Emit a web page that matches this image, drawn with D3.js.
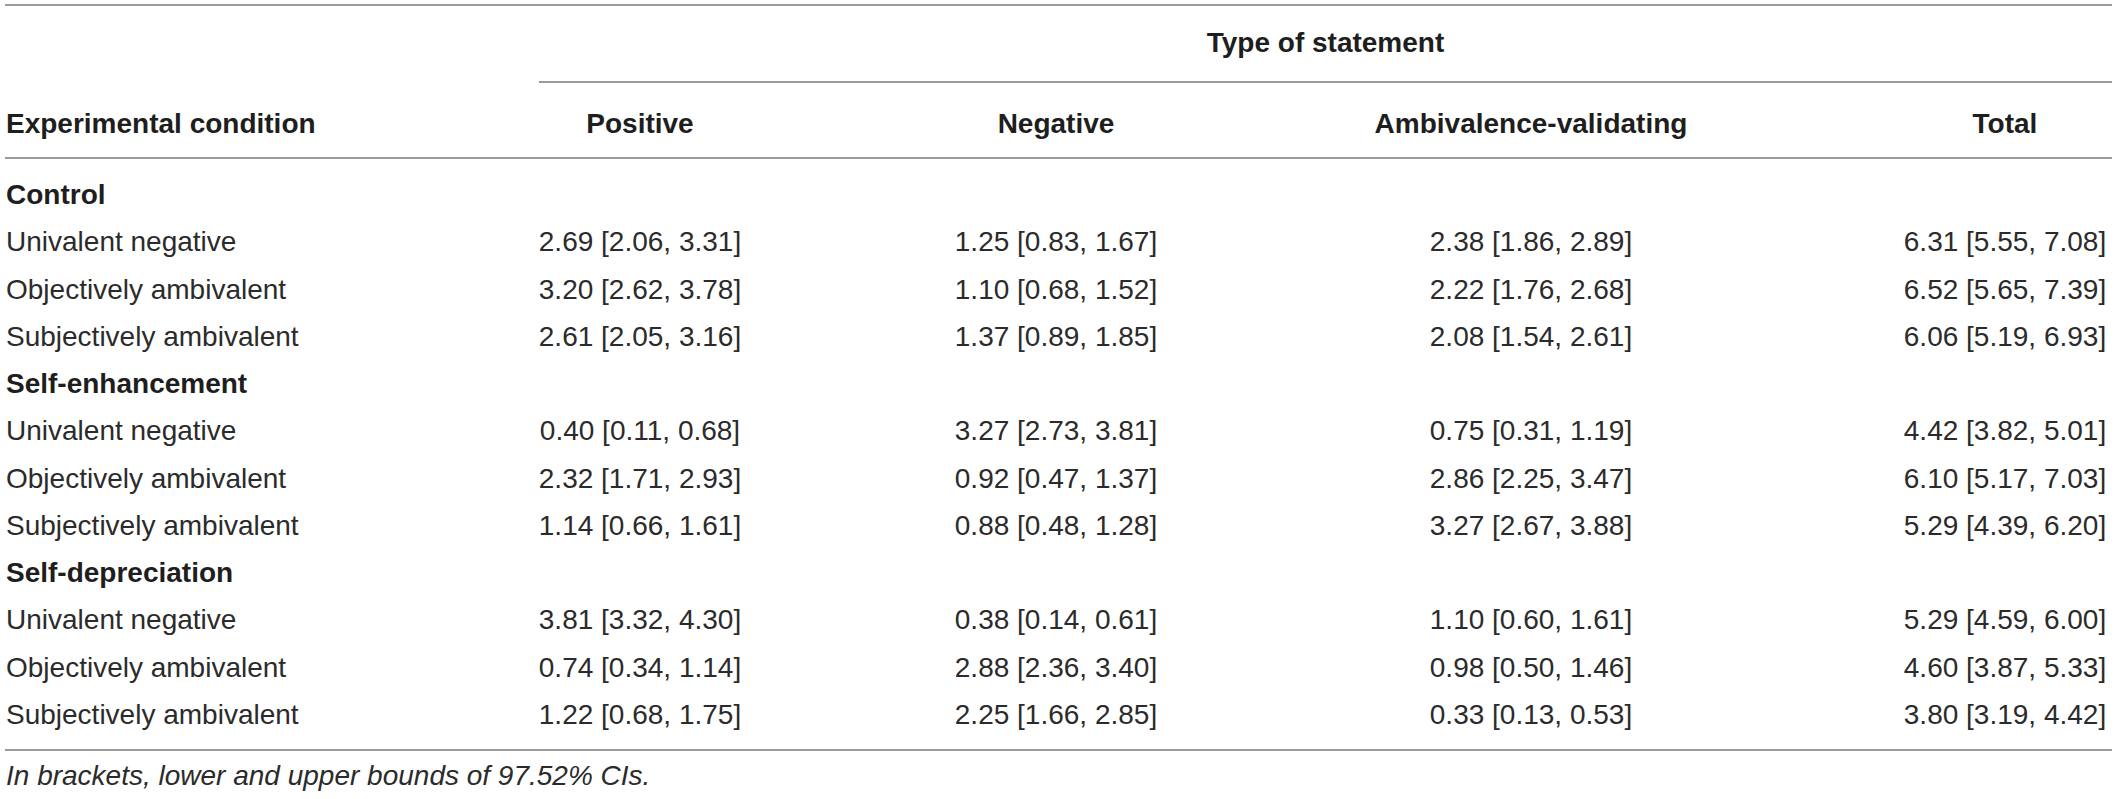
<!DOCTYPE html>
<html>
<head>
<meta charset="utf-8">
<script src="https://cdn.jsdelivr.net/npm/d3@7"></script>
<style>
  html, body { margin: 0; padding: 0; background: #fff; }
  text { font-family: "Liberation Sans", Arial, Helvetica, sans-serif; }
</style>
</head>
<body>
<div id="table"></div>
<script>
// statement types (columns) and conditions (rows)
var statementTypes = ["Positive", "Negative", "Ambivalence-validating", "Total"];
var groups = ["Control", "Self-enhancement", "Self-depreciation"];
var conditions = ["Univalent negative", "Objectively ambivalent", "Subjectively ambivalent"];

// means, lower and upper bounds; 9 rows = 3 groups x 3 conditions
var positiveMean = [2.69, 3.20, 2.61, 0.40, 2.32, 1.14, 3.81, 0.74, 1.22];
var positiveLow  = [2.06, 2.62, 2.05, 0.11, 1.71, 0.66, 3.32, 0.34, 0.68];
var positiveHigh = [3.31, 3.78, 3.16, 0.68, 2.93, 1.61, 4.30, 1.14, 1.75];

var negativeMean = [1.25, 1.10, 1.37, 3.27, 0.92, 0.88, 0.38, 2.88, 2.25];
var negativeLow  = [0.83, 0.68, 0.89, 2.73, 0.47, 0.48, 0.14, 2.36, 1.66];
var negativeHigh = [1.67, 1.52, 1.85, 3.81, 1.37, 1.28, 0.61, 3.40, 2.85];

var ambivMean = [2.38, 2.22, 2.08, 0.75, 2.86, 3.27, 1.10, 0.98, 0.33];
var ambivLow  = [1.86, 1.76, 1.54, 0.31, 2.25, 2.67, 0.60, 0.50, 0.13];
var ambivHigh = [2.89, 2.68, 2.61, 1.19, 3.47, 3.88, 1.61, 1.46, 0.53];

var totalMean = [6.31, 6.52, 6.06, 4.42, 6.10, 5.29, 5.29, 4.60, 3.80];
var totalLow  = [5.55, 5.65, 5.19, 3.82, 5.17, 4.39, 4.59, 3.87, 3.19];
var totalHigh = [7.08, 7.39, 6.93, 5.01, 7.03, 6.20, 6.00, 5.33, 4.42];

var title = "Type of statement";
var rowHeader = "Experimental condition";
var footnote = "In brackets, lower and upper bounds of 97.52% CIs.";

function drawTable(w, h, id) {
    var fmt = d3.format(".2f");
    var svg = d3.select(id).append("svg")
        .attr("width", w)
        .attr("height", h);

    var left = 5, right = 2112;
    // column centers
    var x = d3.scaleOrdinal()
        .domain(statementTypes)
        .range([640, 1056, 1531, 2005]);
    // body rows: group headings + condition rows
    var y = d3.scaleLinear().domain([0, 11]).range([204, 724]);

    var cols = [
        [positiveMean, positiveLow, positiveHigh],
        [negativeMean, negativeLow, negativeHigh],
        [ambivMean, ambivLow, ambivHigh],
        [totalMean, totalLow, totalHigh]
    ];

    // rules
    var lines = [
        [left, right, 5],
        [539, right, 82],
        [left, right, 158],
        [left, right, 750]
    ];
    svg.selectAll("line.rule").data(lines).enter().append("line")
        .attr("class", "rule")
        .attr("x1", function(d){ return d[0]; })
        .attr("x2", function(d){ return d[1]; })
        .attr("y1", function(d){ return d[2]; })
        .attr("y2", function(d){ return d[2]; })
        .attr("stroke", "#7a7a7a")
        .attr("stroke-width", 1.5);

    // headers
    svg.append("text")
        .attr("x", (539 + right) / 2)
        .attr("y", 52)
        .attr("text-anchor", "middle")
        .attr("font-size", 28)
        .attr("font-weight", "bold")
        .attr("fill", "#1e1e1e")
        .text(title);
    svg.append("text")
        .attr("x", 6)
        .attr("y", 133)
        .attr("font-size", 28)
        .attr("font-weight", "bold")
        .attr("fill", "#1e1e1e")
        .text(rowHeader);
    svg.selectAll("text.colhead").data(statementTypes).enter().append("text")
        .attr("class", "colhead")
        .attr("x", function(d){ return x(d); })
        .attr("y", 133)
        .attr("text-anchor", "middle")
        .attr("font-size", 28)
        .attr("font-weight", "bold")
        .attr("fill", "#1e1e1e")
        .text(function(d){ return d; });

    // body
    var rowIdx = 0;
    groups.forEach(function(g, gi){
        svg.append("text")
            .attr("x", 6)
            .attr("y", y(rowIdx))
            .attr("font-size", 28)
            .attr("font-weight", "bold")
            .attr("fill", "#1e1e1e")
            .text(g);
        rowIdx++;
        conditions.forEach(function(c, ci){
            var k = gi * 3 + ci;
            svg.append("text")
                .attr("x", 6)
                .attr("y", y(rowIdx))
                .attr("font-size", 28)
                .attr("fill", "#2b2b2b")
                .text(c);
            statementTypes.forEach(function(s, si){
                var v = cols[si];
                svg.append("text")
                    .attr("x", x(s))
                    .attr("y", y(rowIdx))
                    .attr("text-anchor", "middle")
                    .attr("font-size", 28)
                    .attr("fill", "#2b2b2b")
                    .text(fmt(v[0][k]) + " [" + fmt(v[1][k]) + ", " + fmt(v[2][k]) + "]");
            });
            rowIdx++;
        });
    });

    svg.append("text")
        .attr("x", 6)
        .attr("y", 785)
        .attr("font-size", 28)
        .attr("font-style", "italic")
        .attr("fill", "#2b2b2b")
        .text(footnote);
}

drawTable(2117, 799, "#table");
</script>
</body>
</html>
